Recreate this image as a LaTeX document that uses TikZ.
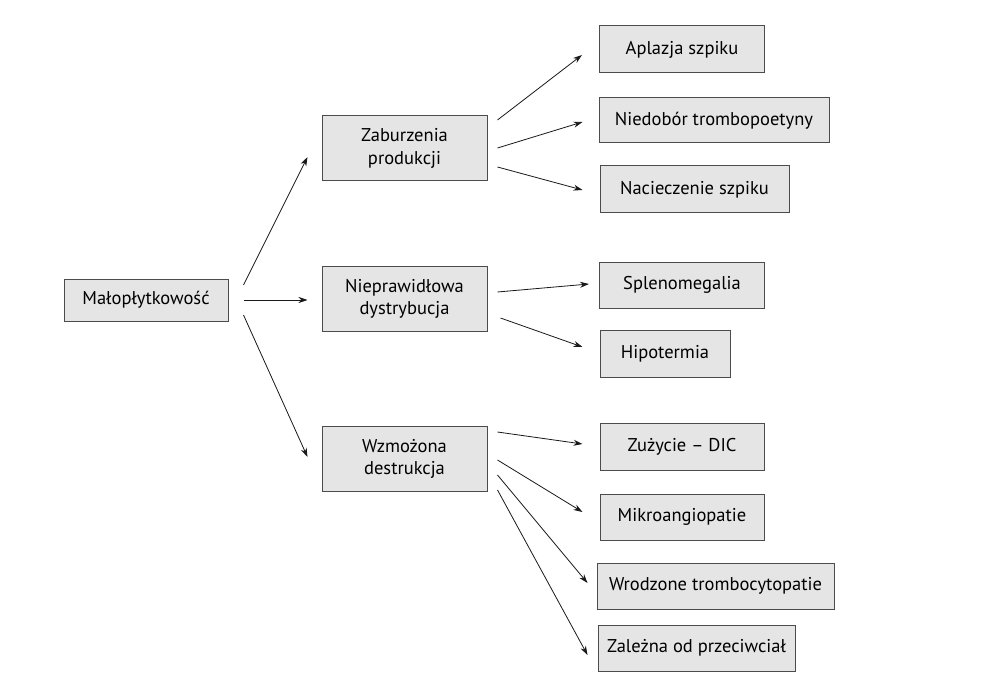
\documentclass[tikz,border=0pt]{standalone}
\usepackage{fontspec}
\setmainfont{PT Sans}
\usetikzlibrary{calc,arrows.meta}
\begin{document}
\begin{tikzpicture}[x=1pt,y=-1pt,
  box/.style={draw=black!70,fill=black!10,line width=1pt,inner sep=0pt,align=center,font=\fontsize{18.5}{22.5}\selectfont},
  arr/.style={-{Stealth[length=9pt,width=6pt]},line width=0.8pt,black!90}]
\useasboundingbox (0,0) rectangle (994,698);
\fill[white] (0,0) rectangle (994,698);
\node[box,minimum width=164pt,minimum height=42pt] (m) at (146,300) {Małopłytkowość};
\node[box,minimum width=165pt,minimum height=65pt] (zp) at (404.5,148.5) {Zaburzenia\\produkcji};
\node[box,minimum width=165pt,minimum height=65pt] (nd) at (404.5,299) {Nieprawidłowa\\dystrybucja};
\node[box,minimum width=165pt,minimum height=65pt] (wd) at (404.5,459) {Wzmożona\\destrukcja};
\node[box,minimum width=165pt,minimum height=47pt] (a1) at (682,49.5) {Aplazja szpiku};
\node[box,minimum width=230pt,minimum height=45pt] (a2) at (714,120.5) {Niedobór trombopoetyny};
\node[box,minimum width=189pt,minimum height=47pt] (a3) at (694.5,189.5) {Nacieczenie szpiku};
\node[box,minimum width=165pt,minimum height=46pt] (b1) at (682,285) {Splenomegalia};
\node[box,minimum width=130pt,minimum height=47pt] (b2) at (665,353.5) {Hipotermia};
\node[box,minimum width=164pt,minimum height=47pt] (c1) at (682,446.5) {Zużycie – DIC};
\node[box,minimum width=164pt,minimum height=46pt] (c2) at (682,517) {Mikroangiopatie};
\node[box,minimum width=237pt,minimum height=46pt] (c3) at (715.5,586) {Wrodzone trombocytopatie};
\node[box,minimum width=197pt,minimum height=46pt] (c4) at (696.5,648) {Zależna od przeciwciał};
% from root
\draw[arr] ($(m.east)+(15,-15)$) -- ($(zp.west)+(-14,8.5)$);
\draw[arr] ($(m.east)+(15,0)$) -- ($(nd.west)+(-14,1)$);
\draw[arr] ($(m.east)+(15,15)$) -- ($(wd.west)+(-14,-2)$);
% from zp
\draw[arr] ($(zp.east)+(10,-28.5)$) -- ($(a1.west)+(-17,5.5)$);
\draw[arr] ($(zp.east)+(10,-0.5)$) -- ($(a2.west)+(-16,1.5)$);
\draw[arr] ($(zp.east)+(10,18.5)$) -- ($(a3.west)+(-17,0.5)$);
% from nd
\draw[arr] ($(nd.east)+(10,-7)$) -- ($(b1.west)+(-10,-1)$);
\draw[arr] ($(nd.east)+(13,19)$) -- ($(b2.west)+(-17,-6.5)$);
% from wd
\draw[arr] ($(wd.east)+(10,-27)$) -- ($(c1.west)+(-17,-2.5)$);
\draw[arr] ($(wd.east)+(10,1)$) -- ($(c2.west)+(-17,-5)$);
\draw[arr] ($(wd.east)+(10,16)$) -- ($(c3.west)+(-9,-3)$);
\draw[arr] ($(wd.east)+(10,31)$) -- ($(c4.west)+(-10,7)$);
\end{tikzpicture}
\end{document}
